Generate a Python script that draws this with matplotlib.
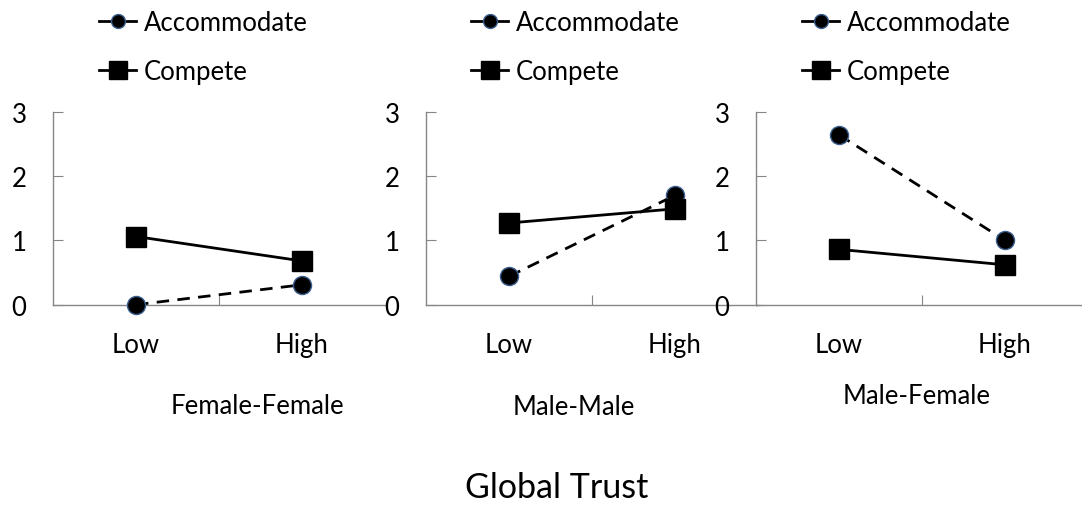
import matplotlib
matplotlib.use("Agg")
import matplotlib.pyplot as plt

plt.rcParams['font.family'] = ['Lato', 'DejaVu Sans']

# data
levels = ["Low", "High"]
panels = ["Female-Female", "Male-Male", "Male-Female"]
accommodate = [[0.00, 0.31], [0.44, 1.70], [2.64, 1.00]]
compete = [[1.06, 0.68], [1.27, 1.49], [0.86, 0.62]]

fig = plt.figure(figsize=(10.82, 5.06), dpi=100)

lefts = [53, 426, 756]
name_x = [1.23, 0.89, 0.97]
name_y = [-0.52, -0.53, -0.47]
leg_x = [99, 471, 802]
W, H = 1082, 506
gray = "#868686"
fs = 18.5
lw = 2.0

for i, name in enumerate(panels):
    ax = fig.add_axes([lefts[i] / W, 200.3 / H, 332 / W, 193 / H])
    ax.patch.set_alpha(0)
    xs = [0.5, 1.5]
    ax.plot(xs, accommodate[i], color="black", lw=lw, ls=(0, (4.5, 3)),
            marker="o", ms=13, mfc="black", mec="#3a5f8f", mew=1.0,
            clip_on=False, zorder=3)
    ax.plot(xs, compete[i], color="black", lw=lw, ls="-",
            marker="s", ms=14, mfc="black", mec="black",
            clip_on=False, zorder=3)
    ax.set_xlim(0, 2)
    ax.set_ylim(0, 3)
    ax.set_yticks([0, 1, 2, 3])
    ax.set_xticks([1])
    ax.set_xticklabels([""])
    ax.set_xticks(xs, minor=True)
    ax.set_xticklabels(levels, minor=True)
    ax.tick_params(axis="x", which="minor", length=0, pad=20, labelsize=fs)
    ax.tick_params(axis="x", which="major", direction="in", length=7, color=gray)
    ax.tick_params(axis="y", direction="in", length=7, color=gray, pad=19,
                   labelsize=fs)
    for s in ["top", "right"]:
        ax.spines[s].set_visible(False)
    for s in ["left", "bottom"]:
        ax.spines[s].set_color(gray)
        ax.spines[s].set_linewidth(1.0)
    ax.text(name_x[i], name_y[i], name, transform=ax.get_xaxis_transform(),
            ha="center", va="center", fontsize=fs)

    # legend handles: solid short line with marker
    h1 = plt.Line2D([], [], color="black", lw=lw, marker="o", ms=10,
                    mfc="black", mec="#3a5f8f", mew=1.0)
    h2 = plt.Line2D([], [], color="black", lw=lw, marker="s", ms=13,
                    mfc="black", mec="black")
    fig.legend([h1, h2], ["Accommodate", "Compete"],
               loc="upper left", bbox_to_anchor=(leg_x[i] / W, 1 - 11 / H),
               frameon=False, fontsize=fs, handlelength=1.45,
               handletextpad=0.3, labelspacing=0.95, borderpad=0,
               borderaxespad=0)

fig.text(557 / W, 1 - 488 / H, "Global Trust", ha="center", va="center",
         fontsize=24.5)

fig.savefig("out.png", dpi=100)
